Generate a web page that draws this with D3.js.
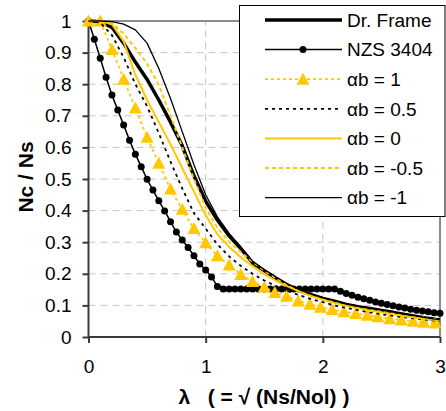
<!DOCTYPE html>
<html>
<head>
<meta charset="utf-8">
<script src="https://cdn.jsdelivr.net/npm/d3@7"></script>
<style>
  body { margin: 0; background: #fff; }
  text { font-family: "Liberation Sans", Arial, sans-serif; }
</style>
</head>
<body>
<svg id="chart" width="446" height="411"></svg>
<script>
// lambda values
const lambdaLines = [0,0.1,0.2,0.3,0.4,0.5,0.6,0.7,0.8,0.9,1,1.1,1.2,1.3,1.4,1.5,1.6,1.7,1.8,1.9,2,2.1,2.2,2.3,2.4,2.5,2.6,2.7,2.8,2.9,3];
const lambdaTri = [0,0.1,0.2,0.3,0.4,0.5,0.6,0.7,0.8,0.9,1,1.1,1.2,1.3,1.4,1.5,1.59,1.69,1.79,1.89,1.98,2.08,2.18,2.28,2.38,2.47,2.57,2.67,2.77,2.86,2.96];
const lambdaNZS = [0,0.05,0.1,0.15,0.2,0.25,0.3,0.35,0.4,0.45,0.5,0.55,0.6,0.65,0.7,0.75,0.8,0.85,0.9,0.95,
  1,1.05,1.1,1.15,1.2,1.25,1.3,1.35,1.4,1.45,1.5,1.55,1.6,1.65,1.7,1.75,1.8,1.85,1.9,1.95,
  2,2.05,2.1,2.15,2.2,2.25,2.3,2.35,2.4,2.45,2.5,2.55,2.6,2.65,2.7,2.75,2.8,2.85,2.9,2.95,3];

// Nc / Ns
const drFrame = [1,0.998,0.98,0.93,0.87,0.815,0.75,0.68,0.605,0.51,0.43,0.37,0.32,0.28,0.235,0.21,0.186,0.163,0.147,0.134,0.122,0.113,0.103,0.096,0.09,0.084,0.078,0.071,0.065,0.059,0.054];
const nzs3404 = [1,0.942,0.882,0.822,0.766,0.718,0.671,0.623,0.578,0.539,
  0.499,0.465,0.431,0.399,0.365,0.332,0.307,0.283,0.257,0.231,
  0.212,0.19,0.16,0.152,0.152,0.152,0.152,0.152,0.152,0.152,
  0.152,0.152,0.152,0.152,0.152,0.152,0.152,0.152,0.152,0.152,
  0.152,0.152,0.152,0.145,0.138,0.132,0.126,0.121,0.116,0.111,
  0.107,0.103,0.099,0.095,0.092,0.088,0.085,0.082,0.08,0.077,0.075];
const ab1 = [1,1,0.91,0.816,0.725,0.632,0.55,0.468,0.404,0.343,0.298,0.257,0.228,0.198,0.176,0.158,0.141,0.129,0.114,0.104,0.094,0.087,0.08,0.074,0.069,0.064,0.058,0.054,0.05,0.047,0.044];
const ab05 = [1,0.995,0.955,0.885,0.8,0.73,0.645,0.555,0.47,0.392,0.343,0.293,0.255,0.225,0.2,0.179,0.161,0.146,0.132,0.12,0.11,0.1,0.092,0.085,0.078,0.072,0.067,0.062,0.058,0.054,0.05];
const ab0 = [1,1,0.99,0.935,0.83,0.75,0.68,0.61,0.535,0.46,0.385,0.325,0.285,0.252,0.224,0.199,0.178,0.16,0.144,0.13,0.118,0.108,0.099,0.091,0.084,0.078,0.072,0.066,0.061,0.057,0.052];
const abm05 = [1,1,0.993,0.96,0.914,0.865,0.797,0.7,0.6,0.5,0.41,0.345,0.302,0.268,0.238,0.21,0.186,0.165,0.147,0.133,0.121,0.111,0.101,0.094,0.087,0.081,0.075,0.069,0.063,0.058,0.053];
const abm1 = [1,1,0.998,0.99,0.972,0.93,0.85,0.755,0.65,0.545,0.45,0.38,0.328,0.285,0.24,0.213,0.19,0.168,0.15,0.136,0.124,0.114,0.104,0.097,0.091,0.085,0.079,0.072,0.066,0.06,0.054];

const xTicks = [0,1,2,3];
const yTicks = [0,0.1,0.2,0.3,0.4,0.5,0.6,0.7,0.8,0.9,1];
const legendNames = ["Dr. Frame","NZS 3404","αb = 1","αb = 0.5","αb = 0","αb = -0.5","αb = -1"];

const yellow = "#FFC800";
const series = [
  {name: legendNames[0], xs: lambdaLines, ys: drFrame, color: "#000", width: 3.5, dash: null, marker: null},
  {name: legendNames[1], xs: lambdaNZS, ys: nzs3404, color: "#000", width: 1.5, dash: null, marker: "dot"},
  {name: legendNames[2], xs: lambdaTri, ys: ab1, color: yellow, width: 1.8, dash: "3,3", marker: "tri"},
  {name: legendNames[3], xs: lambdaLines, ys: ab05, color: "#000", width: 1.8, dash: "3,4", marker: null},
  {name: legendNames[4], xs: lambdaLines, ys: ab0, color: yellow, width: 2, dash: null, marker: null},
  {name: legendNames[5], xs: lambdaLines, ys: abm05, color: yellow, width: 2, dash: "4,3", marker: null},
  {name: legendNames[6], xs: lambdaLines, ys: abm1, color: "#000", width: 1.3, dash: null, marker: null}
];

const svg = d3.select("#chart");
const x = d3.scaleLinear().domain([0, 3]).range([88.5, 440]);
const y = d3.scaleLinear().domain([0, 1]).range([337, 21]);

// grid
svg.append("g").selectAll("line").data(yTicks.filter(d => d > 0 && d < 1)).enter()
  .append("line")
  .attr("x1", x(0)).attr("x2", x(3))
  .attr("y1", d => y(d)).attr("y2", d => y(d))
  .attr("stroke", "#c4c4c4").attr("stroke-width", 1).attr("stroke-dasharray", "7,5");
svg.append("g").selectAll("line").data(xTicks.filter(d => d > 0 && d < 3)).enter()
  .append("line")
  .attr("x1", d => x(d)).attr("x2", d => x(d))
  .attr("y1", y(0)).attr("y2", y(1))
  .attr("stroke", "#c4c4c4").attr("stroke-width", 1).attr("stroke-dasharray", "7,5");

// top / right border
svg.append("path")
  .attr("d", `M${x(0)},${y(1)}H${x(3)}V${y(0)}`)
  .attr("fill", "none").attr("stroke", "#8c8c8c").attr("stroke-width", 2);

// axes
const yAxis = svg.append("g").attr("transform", `translate(${x(0)},0)`)
  .call(d3.axisLeft(y).tickValues(yTicks).tickSize(6).tickPadding(11)
    .tickFormat(d => d === 0 ? "0" : d === 1 ? "1" : d3.format(".1f")(d)));
const xAxis = svg.append("g").attr("transform", `translate(0,${y(0)})`)
  .call(d3.axisBottom(x).tickValues(xTicks).tickSize(6).tickPadding(17).tickFormat(d3.format("d")));
[yAxis, xAxis].forEach(g => {
  g.select(".domain").remove();
  g.selectAll(".tick line").attr("stroke", "#3a3a3a").attr("stroke-width", 2);
  g.selectAll(".tick text").attr("fill", "#000").style("font-size", "19px")
    .style("font-family", "'Liberation Sans', Arial, sans-serif");
});
svg.append("path")
  .attr("d", `M${x(0)},${y(1)}V${y(0)}H${x(3)}`)
  .attr("fill", "none").attr("stroke", "#3a3a3a").attr("stroke-width", 2);

// series
const line = d3.line().x(d => x(d[0])).y(d => y(d[1]));
const triPath = "M0,-6.5L6.5,5.5L-6.5,5.5Z";

series.forEach(s => {
  const pts = s.xs.map((v, i) => [v, s.ys[i]]);
  svg.append("path").datum(pts)
    .attr("d", line)
    .attr("fill", "none")
    .attr("stroke", s.color)
    .attr("stroke-width", s.width)
    .attr("stroke-dasharray", s.dash)
    .attr("stroke-linejoin", "round");
  if (s.marker === "dot") {
    svg.append("g").selectAll("circle").data(pts).enter()
      .append("circle")
      .attr("cx", d => x(d[0])).attr("cy", d => y(d[1]))
      .attr("r", 3.5).attr("fill", "#000");
  }
  if (s.marker === "tri") {
    svg.append("g").selectAll("path").data(pts).enter()
      .append("path")
      .attr("d", triPath)
      .attr("transform", d => `translate(${x(d[0])},${y(d[1])})`)
      .attr("fill", yellow);
  }
});

// legend
const legend = svg.append("g");
legend.append("rect")
  .attr("x", 239.5).attr("y", 5.5).attr("width", 205.5).attr("height", 211)
  .attr("fill", "#fff").attr("stroke", "#000").attr("stroke-width", 1);
series.forEach((s, i) => {
  const ly = 20 + i * 29.6;
  legend.append("line")
    .attr("x1", 265).attr("x2", 342).attr("y1", ly).attr("y2", ly)
    .attr("stroke", s.color).attr("stroke-width", s.width)
    .attr("stroke-dasharray", s.dash);
  if (s.marker === "dot") {
    legend.append("circle").attr("cx", 303).attr("cy", ly).attr("r", 3.5).attr("fill", "#000");
  }
  if (s.marker === "tri") {
    legend.append("path").attr("d", triPath).attr("transform", `translate(303,${ly})`).attr("fill", yellow);
  }
  legend.append("text")
    .attr("x", 347).attr("y", ly).attr("dy", "0.36em")
    .style("font-size", "19px")
    .text(s.name);
});

// axis titles
svg.append("text")
  .attr("transform", "translate(33,177) rotate(-90)")
  .attr("text-anchor", "middle")
  .style("font-size", "21px").style("font-weight", "bold")
  .text("Nc / Ns");
svg.append("text")
  .attr("x", 264).attr("y", 404)
  .attr("text-anchor", "middle")
  .style("font-size", "21px").style("font-weight", "bold")
  .style("white-space", "pre")
  .text("λ   ( = √ (Ns/Nol) )");
</script>
</body>
</html>
